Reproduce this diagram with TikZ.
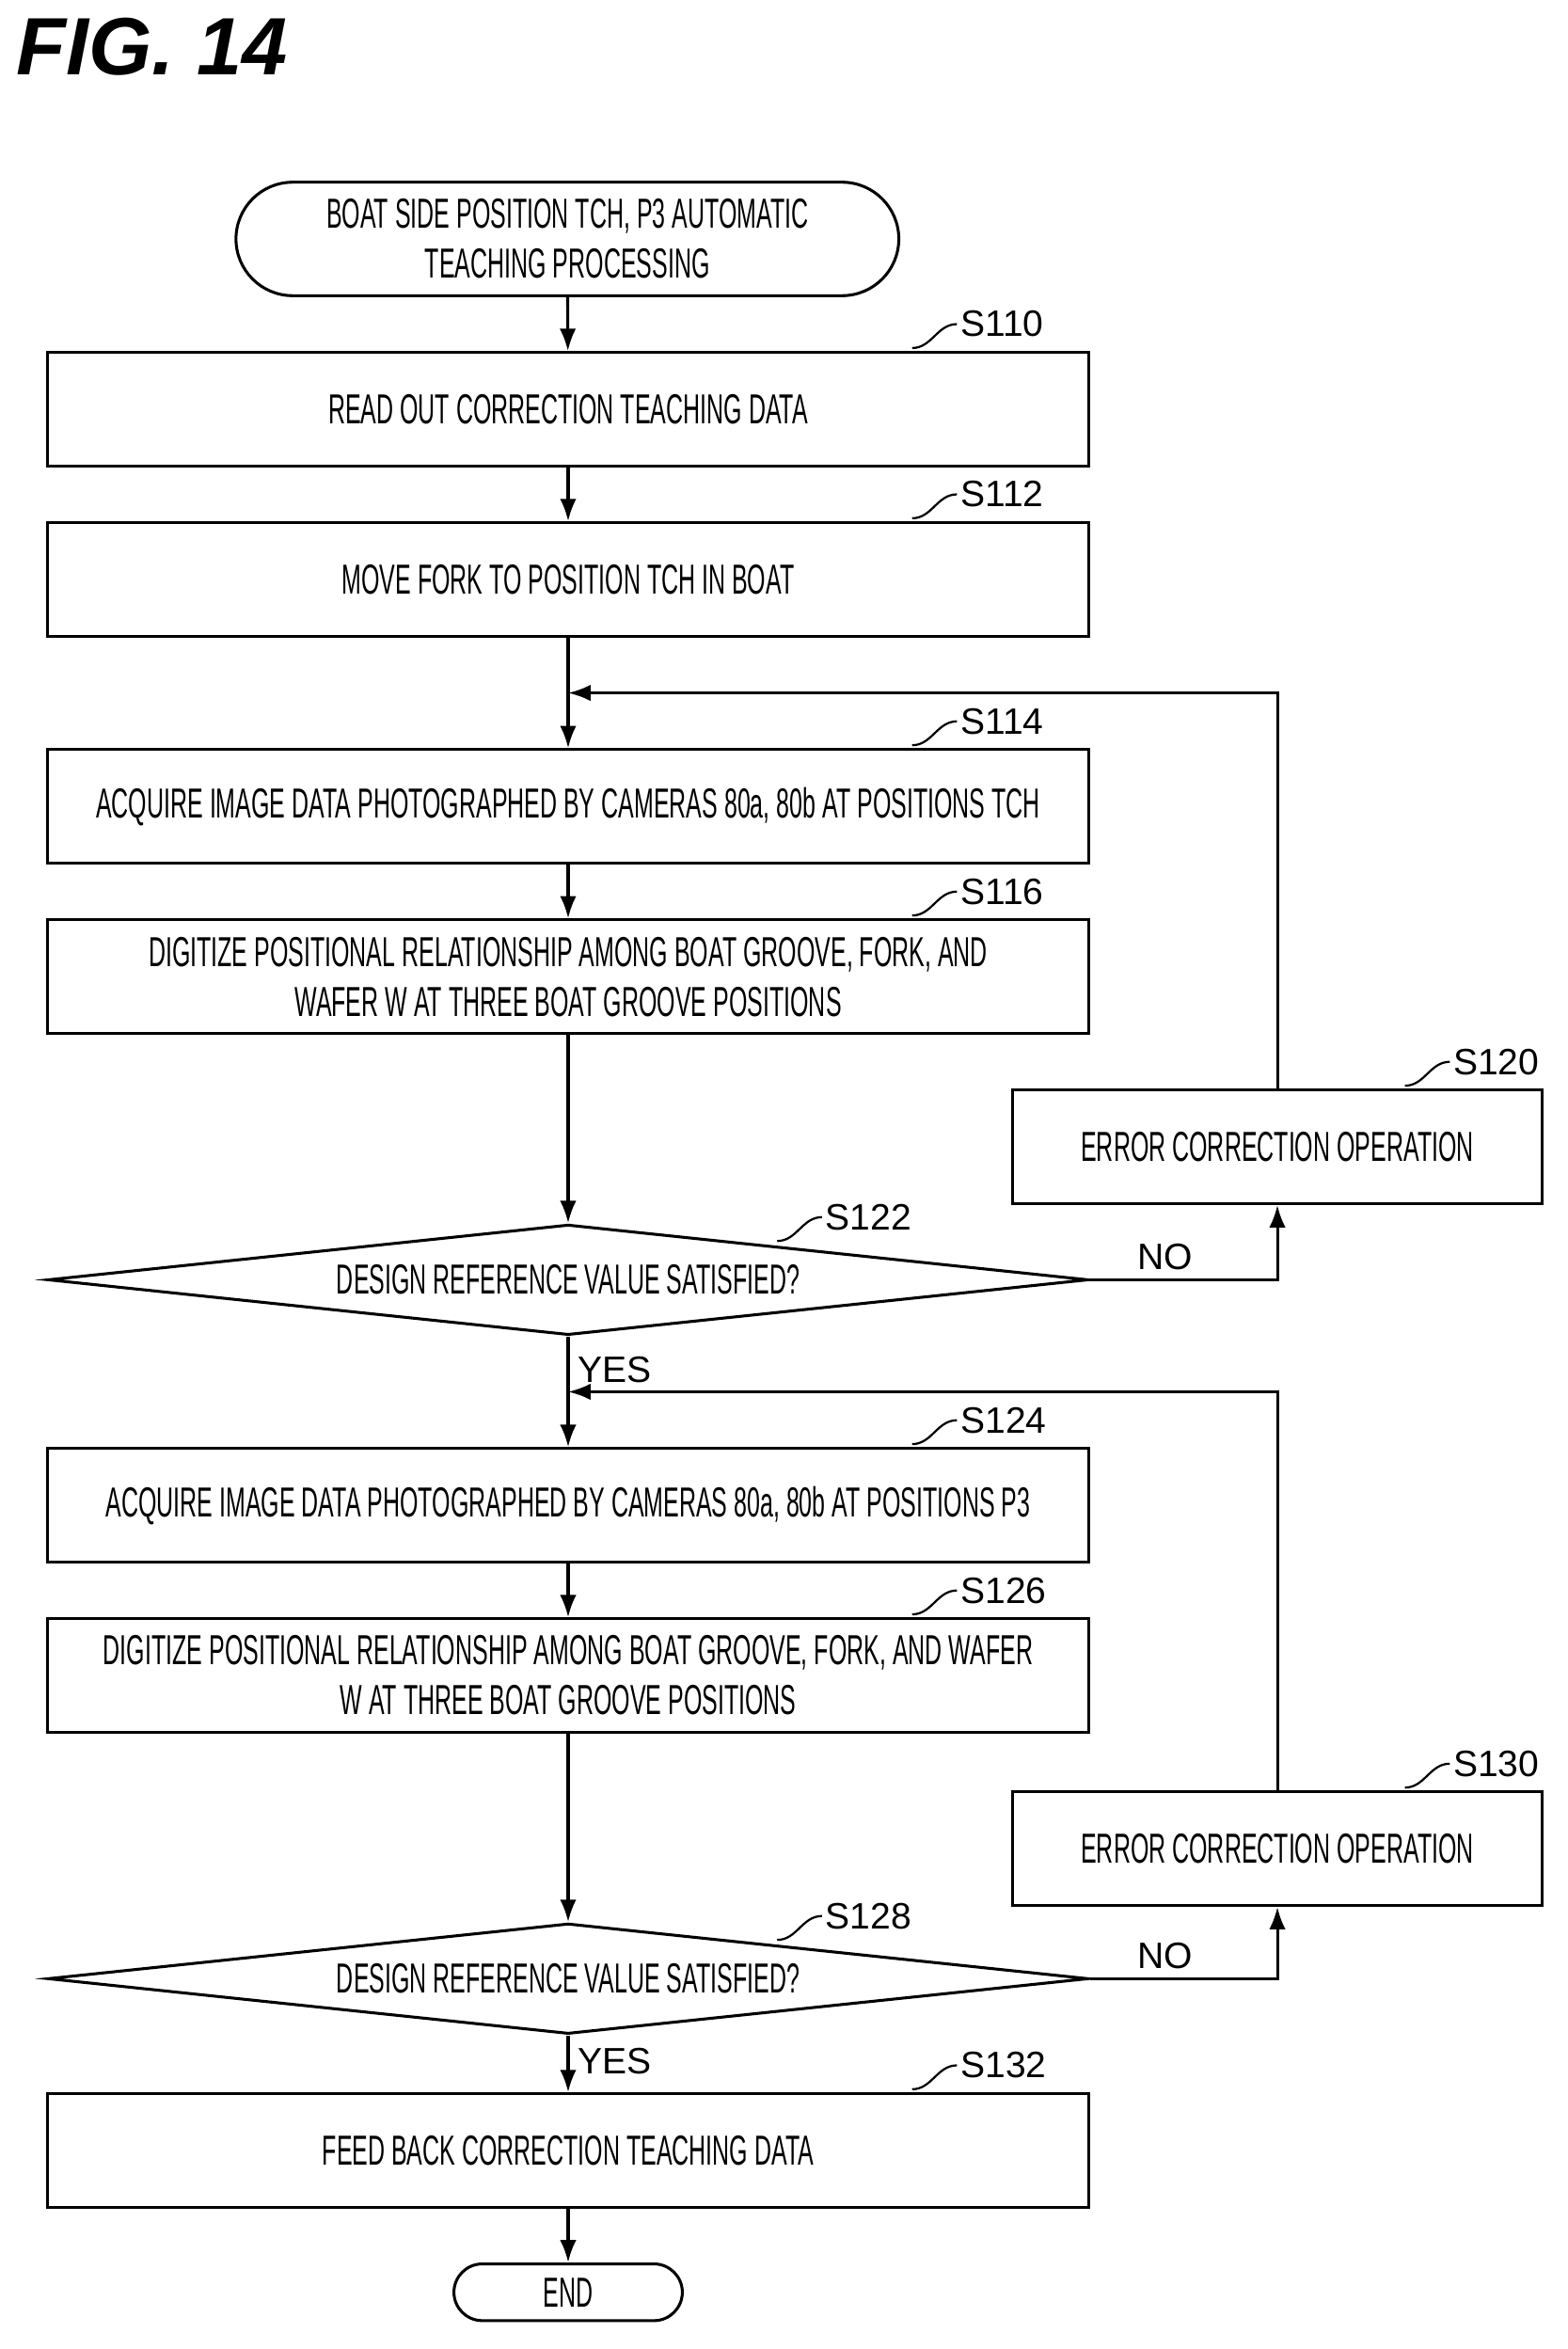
\documentclass[tikz,border=0pt]{standalone}
\usepackage{fontspec}
\setmainfont{Liberation Sans}
\newfontfamily\narrowfont[FakeStretch=0.56]{Liberation Sans}
\usetikzlibrary{shapes.geometric, arrows.meta, positioning}
\tikzset{
  box/.style={draw, line width=1.1pt, minimum width=13.94cm, minimum height=1.52cm,
    align=center, font=\narrowfont\fontsize{16}{19}\selectfont, inner sep=0pt},
  errbox/.style={box, minimum width=7.1cm},
  term/.style={draw, line width=1.1pt, rounded corners=0.76cm, align=center,
    font=\narrowfont\fontsize{16}{19}\selectfont, inner sep=0pt},
  dec/.style={draw, line width=1.1pt, diamond, aspect=9.42, inner sep=0pt,
    minimum width=13.94cm, minimum height=1.48cm, font=\narrowfont\fontsize{16}{19}\selectfont},
  flow/.style={line width=1.1pt, -{Latex[length=3mm,width=2.2mm]}},
  lead/.style={line width=0.8pt},
  tag/.style={font=\fontsize{14}{16}\selectfont, right, inner sep=1pt},
  yn/.style={font=\fontsize{14}{16}\selectfont}
}
\newcommand{\steptag}[3]{\draw[lead] (#1) ++(#2) to[out=0,in=180] ++(30,-16) node[tag] {#3};}
\begin{document}
\begin{tikzpicture}[x=0.02cm, y=-0.02cm]
\useasboundingbox (0,0) rectangle (1050,1573);
\node[anchor=west, font=\bfseries\itshape\fontsize{31}{34}\selectfont] (fig) at (5,31) {FIG. 14};

\node[term, minimum width=8.88cm, minimum height=1.52cm] (start) at (380,160) {BOAT SIDE POSITION TCH, P3 AUTOMATIC\\TEACHING PROCESSING};
\node[box] (s110) at (380.5,274) {READ OUT CORRECTION TEACHING DATA};
\node[box] (s112) at (380.5,388) {MOVE FORK TO POSITION TCH IN BOAT};
\node[box] (s114) at (380.5,540) {ACQUIRE IMAGE DATA PHOTOGRAPHED BY CAMERAS 80a, 80b AT POSITIONS TCH};
\node[box] (s116) at (380.5,654) {DIGITIZE POSITIONAL RELATIONSHIP AMONG BOAT GROOVE, FORK, AND\\WAFER W AT THREE BOAT GROOVE POSITIONS};
\node[errbox] (s120) at (855.5,768) {ERROR CORRECTION OPERATION};
\node[dec] (s122) at (380.5,857) {DESIGN REFERENCE VALUE SATISFIED?};
\node[box] (s124) at (380.5,1008) {ACQUIRE IMAGE DATA PHOTOGRAPHED BY CAMERAS 80a, 80b AT POSITIONS P3};
\node[box] (s126) at (380.5,1122) {DIGITIZE POSITIONAL RELATIONSHIP AMONG BOAT GROOVE, FORK, AND WAFER\\W AT THREE BOAT GROOVE POSITIONS};
\node[errbox] (s130) at (855.5,1238) {ERROR CORRECTION OPERATION};
\node[dec] (s128) at (380.5,1325) {DESIGN REFERENCE VALUE SATISFIED?};
\node[box] (s132) at (380.5,1440) {FEED BACK CORRECTION TEACHING DATA};
\node[term, minimum width=3.06cm, minimum height=0.76cm, rounded corners=0.38cm] (end) at (380.5,1535) {END};

\coordinate (j1) at (380.5,464);
\coordinate (j2) at (380.5,932);

% main flow
\draw[flow] (start) -- (s110);
\draw[flow] (s110) -- (s112);
\draw[flow] (s112) -- (s114);
\draw[flow] (s114) -- (s116);
\draw[flow] (s116) -- (s122);
\draw[flow] (s122) -- (s124) node[yn, pos=0.3, right] {YES};
\draw[flow] (s124) -- (s126);
\draw[flow] (s126) -- (s128);
\draw[flow] (s128) -- (s132) node[yn, pos=0.45, right] {YES};
\draw[flow] (s132) -- (end);

% retry loops
\draw[flow] (s122.east) -| (s120.south) node[yn, pos=0.2, above] {NO};
\draw[flow] (s120.north) |- (j1);
\draw[flow] (s128.east) -| (s130.south) node[yn, pos=0.2, above] {NO};
\draw[flow] (s130.north) |- (j2);

% step tags
\steptag{s110.north east}{-119,-2}{S110}
\steptag{s112.north east}{-119,-2}{S112}
\steptag{s114.north east}{-119,-2}{S114}
\steptag{s116.north east}{-119,-2}{S116}
\steptag{s120.north east}{-93,-2}{S120}
\steptag{s122.north}{140,12}{S122}
\steptag{s124.north east}{-119,-2}{S124}
\steptag{s126.north east}{-119,-2}{S126}
\steptag{s130.north east}{-93,-2}{S130}
\steptag{s128.north}{140,12}{S128}
\steptag{s132.north east}{-119,-2}{S132}
\end{tikzpicture}
\end{document}
